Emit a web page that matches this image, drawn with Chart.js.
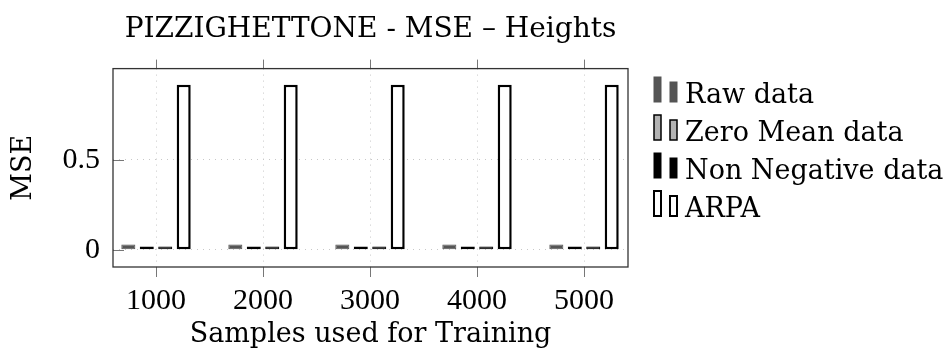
<!DOCTYPE html>
<html>
<head>
<meta charset="utf-8">
<script src="https://cdn.jsdelivr.net/npm/chart.js@4.4.0/dist/chart.umd.min.js"></script>
<style>
  html, body { margin: 0; padding: 0; background: #fff; }
  #wrap { width: 944px; height: 353px; }
</style>
</head>
<body>
<div id="wrap"><canvas id="grafico"></canvas></div>
<script>
// datos
const muestras = [1000, 2000, 3000, 4000, 5000];
const rawData = [0.03, 0.03, 0.03, 0.03, 0.03];
const zeroMean = [0.018, 0.018, 0.018, 0.018, 0.018];
const nonNegative = [0.018, 0.018, 0.018, 0.018, 0.018];
const arpa = [0.915, 0.915, 0.915, 0.915, 0.915];
const yTicks = [0, 0.5];

const TEXTO = "'DejaVu Serif', serif";
const NUMEROS = "'Liberation Serif', serif";

function puntos(valores) {
    return muestras.map((m, i) => ({ x: m, y: valores[i] }));
}

// marco, marcas de los ejes y leyenda estilo pgfplots
const marcoPlugin = {
    id: 'marco',
    afterDraw(chart) {
        const ctx = chart.ctx;
        const a = chart.chartArea;
        const sx = chart.scales.x;
        const sy = chart.scales.y;
        ctx.save();
        ctx.strokeStyle = '#777';
        ctx.lineWidth = 1;
        muestras.forEach(m => {
            const px = Math.round(sx.getPixelForValue(m)) + 0.5;
            ctx.beginPath();
            ctx.moveTo(px, a.top); ctx.lineTo(px, a.top - 9);
            ctx.moveTo(px, a.bottom); ctx.lineTo(px, a.bottom + 10);
            ctx.stroke();
        });
        yTicks.forEach(v => {
            const py = Math.round(sy.getPixelForValue(v)) + 0.5;
            ctx.beginPath();
            ctx.moveTo(a.left, py); ctx.lineTo(a.left + 11, py);
            ctx.stroke();
        });
        ctx.strokeStyle = '#333';
        ctx.lineWidth = 1.3;
        ctx.strokeRect(a.left, a.top, a.right - a.left, a.bottom - a.top);

        // leyenda
        ctx.font = '27px ' + TEXTO;
        ctx.textBaseline = 'alphabetic';
        chart.data.datasets.forEach((ds, i) => {
            const base = 103 + i * 38;
            ctx.fillStyle = ds.backgroundColor;
            ctx.strokeStyle = ds.borderColor;
            ctx.lineWidth = Math.min(ds.borderWidth, 2);
            ctx.fillRect(654, base - 26, 7, 25);
            ctx.strokeRect(654, base - 26, 7, 25);
            ctx.fillRect(670, base - 21, 7, 20);
            ctx.strokeRect(670, base - 21, 7, 20);
            ctx.fillStyle = '#000';
            ctx.fillText(ds.label, 685, base);
        });
        ctx.restore();
    }
};

new Chart(document.getElementById('grafico').getContext('2d'), {
    type: 'bar',
    data: {
        datasets: [
            { label: 'Raw data', data: puntos(rawData), backgroundColor: '#555555', borderColor: '#555555', borderWidth: 1 },
            { label: 'Zero Mean data', data: puntos(zeroMean), backgroundColor: '#b3b3b3', borderColor: '#000000', borderWidth: 1.5 },
            { label: 'Non Negative data', data: puntos(nonNegative), backgroundColor: '#000000', borderColor: '#000000', borderWidth: 1 },
            { label: 'ARPA', data: puntos(arpa), backgroundColor: '#ffffff', borderColor: '#000000', borderWidth: 2.5 }
        ]
    },
    options: {
        responsive: true,
        maintainAspectRatio: false,
        animation: false,
        categoryPercentage: 0.69,
        barPercentage: 0.76,
        borderSkipped: false,
        layout: { padding: { left: 0, right: 316, top: 0, bottom: 0 } },
        plugins: {
            legend: { display: false },
            tooltip: { enabled: false },
            title: {
                display: true,
                fullSize: false,
                text: 'PIZZIGHETTONE - MSE \u2013 Heights',
                color: '#000',
                font: { family: TEXTO, size: 28, weight: 'normal' },
                padding: { top: 13, bottom: 22 }
            }
        },
        scales: {
            x: {
                type: 'linear',
                offset: false,
                min: 598,
                max: 5411,
                afterBuildTicks: s => { s.ticks = muestras.map(v => ({ value: v })); },
                afterFit: s => { s.height = 86; },
                ticks: { color: '#000', font: { family: NUMEROS, size: 30 }, padding: 16, callback: v => String(v) },
                grid: { color: '#c8c8c8', drawTicks: false, offset: false },
                border: { display: false, dash: [1, 5] },
                title: { display: true, text: 'Samples used for Training', color: '#000', font: { family: TEXTO, size: 27 }, padding: { top: 0, bottom: 2 } }
            },
            y: {
                min: -0.095,
                max: 1.005,
                afterBuildTicks: s => { s.ticks = yTicks.map(v => ({ value: v })); },
                afterFit: s => { s.width = 113; },
                ticks: { color: '#000', font: { family: NUMEROS, size: 30 }, padding: 13 },
                grid: { color: '#c8c8c8', drawTicks: false },
                border: { display: false, dash: [1, 5] },
                title: { display: true, text: 'MSE', color: '#000', font: { family: TEXTO, size: 27 }, padding: { top: 8, bottom: 0 } }
            }
        }
    },
    plugins: [marcoPlugin]
});
</script>
</body>
</html>
